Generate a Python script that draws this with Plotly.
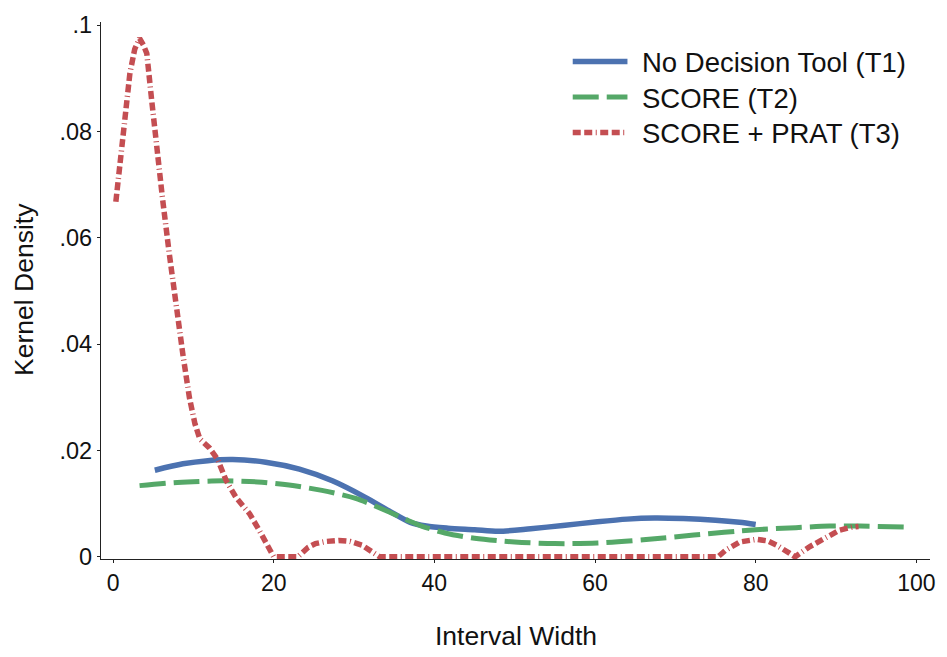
import plotly.graph_objects as go

# Kernel density estimates of interval width, by treatment
t1_x = [5.2, 8.7, 11.8, 14.9, 19, 23.2, 27.3, 31.4, 34.3, 37, 39, 41.7, 45, 48,
        52, 56, 60.3, 64, 67.4, 71, 75, 78, 80]
t1_y = [0.0163, 0.0175, 0.0181, 0.0183, 0.0178, 0.0165, 0.0143, 0.0112, 0.0087,
        0.0065, 0.0058, 0.0054, 0.0051, 0.0048, 0.0053, 0.0059, 0.0066, 0.0071,
        0.0073, 0.0072, 0.0069, 0.0065, 0.0061]

t2_x = [3.3, 8, 13.6, 18, 21.9, 26, 30.2, 34.3, 36.5, 38.4, 41.3, 45, 50, 55,
        60.3, 66, 72.3, 80, 85, 89.2, 93, 98.7]
t2_y = [0.0134, 0.0140, 0.0143, 0.0141, 0.0135, 0.0125, 0.0110, 0.0085, 0.0070,
        0.0058, 0.0045, 0.0035, 0.0028, 0.0025, 0.0026, 0.0032, 0.0041, 0.0051,
        0.0055, 0.0058, 0.0058, 0.0056]

t3_x = [0.35, 1.3, 2.1, 2.7, 3.3, 3.8, 4.2, 4.8, 5.4, 6.15, 7.0, 7.8, 8.7, 9.5,
        10.2, 10.8, 12, 13, 14.1, 15.3, 17, 18.2, 19.4, 20, 23, 23.5, 24.3,
        25.2, 26.5, 28.1, 29.5, 31, 32.6, 33.2, 75.3, 76.3, 78, 80.1, 81.5,
        82.6, 84.2, 84.9, 86.7, 88.8, 90.4, 92, 92.8]
t3_y = [0.0668, 0.0805, 0.0910, 0.0955, 0.0975, 0.0962, 0.0947, 0.0860, 0.0774,
        0.0675, 0.0570, 0.0477, 0.0380, 0.0300, 0.0250, 0.0222, 0.0205, 0.0184,
        0.0143, 0.0112, 0.0081, 0.0050, 0.0019, 0.0, 0.0, 0.0008, 0.0018,
        0.0025, 0.0029, 0.0031, 0.0029, 0.0022, 0.0007, 0.0, 0.0, 0.0013,
        0.0028, 0.0033, 0.0030, 0.0022, 0.0007, 0.0, 0.0019, 0.0035, 0.0050,
        0.0056, 0.0057]

series_names = ["No Decision Tool (T1)", "SCORE (T2)", "SCORE + PRAT (T3)"]

x_ticks = [0, 20, 40, 60, 80, 100]
y_ticks = [0, 0.02, 0.04, 0.06, 0.08, 0.1]
y_tick_labels = ["0", ".02", ".04", ".06", ".08", ".1"]

BLUE = "#4C72B0"
GREEN = "#55A868"
RED = "#C44E52"
FONT = "Liberation Sans, Arial, sans-serif"

styles = [
    dict(color=BLUE, width=5.5, dash="solid", shape="spline"),
    dict(color=GREEN, width=5, dash="26px,8px", shape="spline"),
    dict(color=RED, width=5.5, dash="8px,3.5px,8px,3.5px,1px,3.5px", shape="linear"),
]

fig = go.Figure()
for (xs, ys), name, st in zip([(t1_x, t1_y), (t2_x, t2_y), (t3_x, t3_y)],
                              series_names, styles):
    fig.add_trace(go.Scatter(
        x=xs, y=ys, mode="lines", name=name, showlegend=False,
        line=dict(color=st["color"], width=st["width"], dash=st["dash"],
                  shape=st["shape"], smoothing=0.8 if st["shape"] == "spline" else None),
    ))

# Plot area geometry in pixels
W, H = 947, 657
L, R, T, B = 101, 13, 15, 98
pw, ph = W - L - R, H - T - B


def px_x(p):
    return (p - L) / pw


def px_y(p):
    return (H - B - p) / ph


# Legend drawn as line samples plus labels
legend_rows = [55, 91, 127]
for st, name, ry in zip(styles, series_names, legend_rows):
    fig.add_shape(type="line", xref="paper", yref="paper",
                  x0=px_x(575), x1=px_x(630), y0=px_y(ry), y1=px_y(ry),
                  line=dict(color=st["color"], width=st["width"], dash=st["dash"]))
    fig.add_annotation(xref="paper", yref="paper", x=px_x(643), y=px_y(ry + 1),
                       xanchor="left", yanchor="middle", showarrow=False,
                       text=name, font=dict(family=FONT, size=27.5, color="#111"))

# Axis titles
fig.add_annotation(xref="paper", yref="paper", x=px_x(518), y=px_y(637),
                   xanchor="center", yanchor="middle", showarrow=False,
                   text="Interval Width", font=dict(family=FONT, size=26.5, color="#111"))
fig.add_annotation(xref="paper", yref="paper", x=px_x(23), y=px_y(286),
                   xanchor="center", yanchor="middle", showarrow=False, textangle=-90,
                   text="Kernel Density", font=dict(family=FONT, size=26.5, color="#111"))

fig.update_layout(
    width=W, height=H,
    margin=dict(l=L, r=R, t=T, b=B, pad=0),
    paper_bgcolor="white", plot_bgcolor="white",
    font=dict(family=FONT, color="#111"),
)
fig.update_xaxes(
    range=[-1.5, 101.7], tickvals=x_ticks, ticks="outside", ticklen=3,
    tickcolor="#222", showline=True, linecolor="#222", linewidth=1.2,
    showgrid=False, zeroline=False, tickfont=dict(size=23, family=FONT, color="#111"),
)
fig.update_yaxes(
    range=[-0.0004, 0.1006], tickvals=y_ticks, ticktext=y_tick_labels,
    ticks="outside", ticklen=3, tickcolor="#222", showline=True,
    linecolor="#222", linewidth=1.2, showgrid=False, zeroline=False,
    tickfont=dict(size=23.5, family=FONT, color="#111"),
)

fig.write_html("out.html")
